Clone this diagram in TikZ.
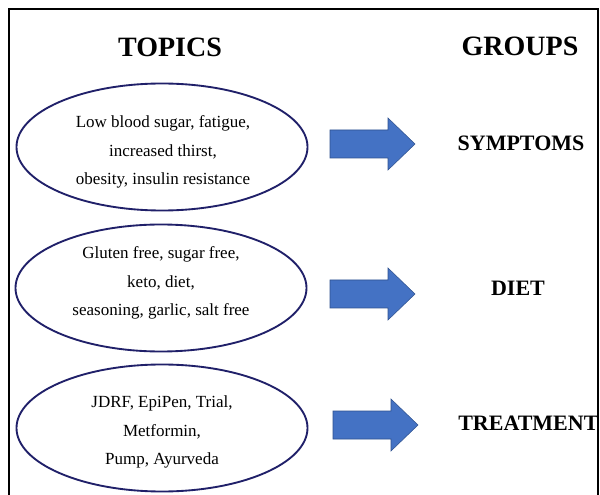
\documentclass[tikz,border=0pt]{standalone}
\usepackage{fontspec}
\setmainfont{Liberation Serif}
\usetikzlibrary{shapes.geometric}
\definecolor{ringblue}{RGB}{32,32,105}
\definecolor{arrowfill}{RGB}{68,114,196}
\definecolor{arrowedge}{RGB}{47,82,143}
\tikzset{
  heading/.style={font=\bfseries\fontsize{21}{24}\selectfont, inner sep=0pt},
  grouplabel/.style={font=\bfseries\fontsize{16.5}{20}\selectfont, inner sep=0pt},
  topicring/.style={ellipse, draw=ringblue, line width=1.4pt, minimum width=218.25pt,
    minimum height=95.25pt, inner sep=0pt},
  topictext/.style={inner sep=0pt, align=center,
    font=\fontsize{12.75}{21.4}\selectfont},
  blockarrow/.style={fill=arrowfill, draw=arrowedge, line width=0.4pt, line join=miter},
  frameline/.style={line width=1.5pt, draw=black}
}
% block arrow pointing right, tail centre at the given coordinate
\newcommand\rightblock[1]{%
  \draw[blockarrow] (#1) ++(0,-14) -- ++(58,0) -- ++(0,-12) -- ++(27,26)
    -- ++(-27,26) -- ++(0,-12) -- ++(-58,0) -- cycle;}
\begin{document}
\begin{tikzpicture}[x=0.75pt,y=-0.75pt]
  \useasboundingbox (0,0) rectangle (600,495);
  \clip (0,0) rectangle (600,495);
  \fill[white] (0,0) rectangle (600,495);

  % outer frame, open at the bottom
  \draw[frameline] (9,500) -- (9,9) -- (598,9) -- (598,500);

  % column headings
  \node[heading] (topics) at (170,47) {TOPICS};
  \node[heading] (groups) at (520,46) {GROUPS};

  % topic ellipses
  \node[topicring] (t1) at (162,147) {};
  \node[topicring] (t2) at (161,288) {};
  \node[topicring] (t3) at (162,428) {};

  % topic keywords
  \node[topictext] (k1) at (163,152) {Low blood sugar, fatigue,\\ increased thirst,\\ obesity, insulin resistance};
  \node[topictext] (k2) at (161,283) {Gluten free, sugar free,\\ keto, diet,\\ seasoning, garlic, salt free};
  \node[topictext] (k3) at (162,432) {JDRF, EpiPen, Trial,\\ Metformin,\\ Pump, Ayurveda};

  % arrows
  \coordinate (a1) at (330,144);
  \coordinate (a2) at (330,294);
  \coordinate (a3) at (333,425);
  \rightblock{a1}
  \rightblock{a2}
  \rightblock{a3}

  % groups
  \node[grouplabel] (g1) at (521,143) {SYMPTOMS};
  \node[grouplabel] (g2) at (518,288) {DIET};
  \node[grouplabel, anchor=west] (g3) at (458,423) {TREATMENT};
\end{tikzpicture}
\end{document}
